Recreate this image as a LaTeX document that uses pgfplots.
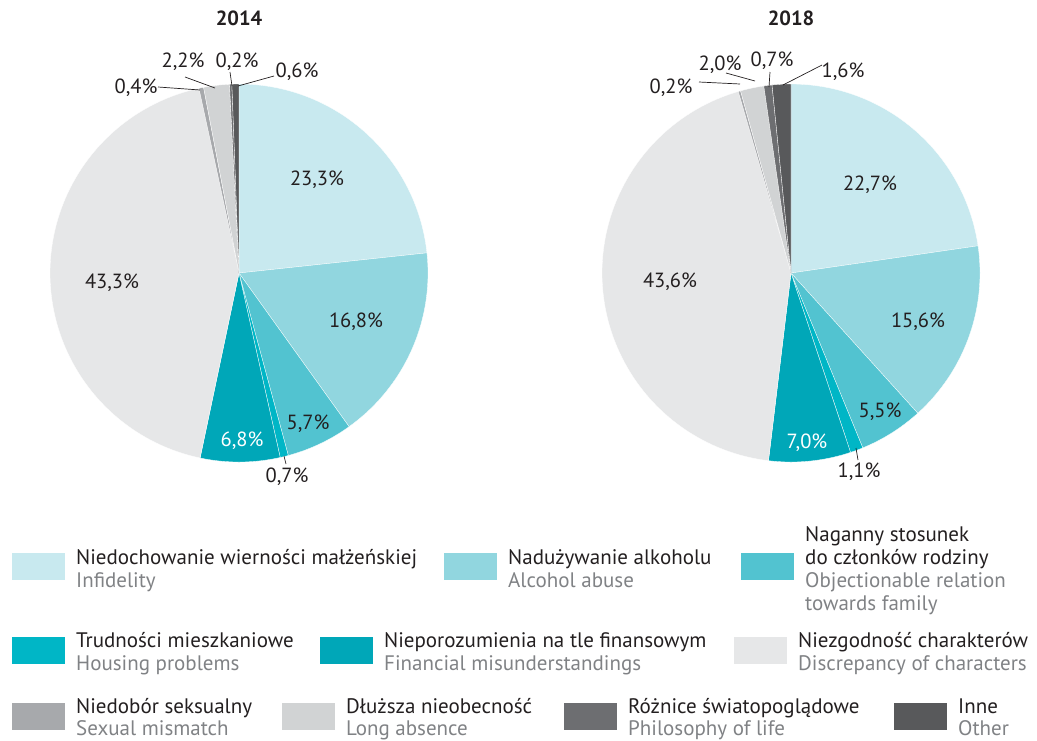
\documentclass[border=0pt]{standalone}
\usepackage{pgfplots}
\pgfplotsset{compat=1.18}
\usepgfplotslibrary{polar}
\usepackage{fontspec}
\setmainfont{PT Sans}
\definecolor{cInf}{HTML}{C8E9EF}
\definecolor{cAlc}{HTML}{91D6DF}
\definecolor{cObj}{HTML}{52C3D0}
\definecolor{cHou}{HTML}{00B6C6}
\definecolor{cFin}{HTML}{00A7B8}
\definecolor{cDis}{HTML}{E6E7E8}
\definecolor{cSex}{HTML}{A7A9AC}
\definecolor{cLon}{HTML}{D1D3D4}
\definecolor{cPhi}{HTML}{6D6E71}
\definecolor{cOth}{HTML}{58595B}
\definecolor{tDark}{HTML}{231F20}
\definecolor{tGray}{HTML}{808285}
% slice from cumulative start #1 to cumulative end #2 (percent), colour #3
\newcommand{\slice}[3]{\addplot[fill=#3, draw=white, line width=0.3pt, domain=90-3.6*#2:90-3.6*#1, samples=90] {1} -- (axis cs:0,0) -- cycle;}
\pgfplotsset{pie/.style={scale only axis, width=378pt, height=378pt, hide axis, clip=false, xmin=0, xmax=360, ymin=0, ymax=1, anchor=center}}
\newcommand{\pct}{\fontsize{20.5}{23}\selectfont\color{tDark}}
\newcommand{\lgf}{\fontsize{21}{23}\selectfont}
\begin{document}
\begin{tikzpicture}[x=1pt,y=-1pt]
\useasboundingbox (0,0) rectangle (1037,740);
% ---- 2014 ----
\begin{polaraxis}[pie, at={(239pt,-273pt)}]
% values: 23.3 16.8 5.7 0.7 6.8 43.3 0.4 2.2 0.2 0.6
\slice{0}{23.3}{cInf}
\slice{23.3}{40.1}{cAlc}
\slice{40.1}{45.8}{cObj}
\slice{45.8}{46.5}{cHou}
\slice{46.5}{53.3}{cFin}
\slice{53.3}{96.6}{cDis}
\slice{96.6}{97.0}{cSex}
\slice{97.0}{99.2}{cLon}
\slice{99.2}{99.4}{cPhi}
\slice{99.4}{100}{cOth}
\end{polaraxis}
% ---- 2018 ----
\begin{polaraxis}[pie, at={(791pt,-273pt)}]
% values: 22.7 15.6 5.5 1.1 7.0 43.6 0.2 2.0 0.7 1.6
\slice{0}{22.7}{cInf}
\slice{22.7}{38.3}{cAlc}
\slice{38.3}{43.8}{cObj}
\slice{43.8}{44.9}{cHou}
\slice{44.9}{51.9}{cFin}
\slice{51.9}{95.5}{cDis}
\slice{95.5}{95.7}{cSex}
\slice{95.7}{97.7}{cLon}
\slice{97.7}{98.4}{cPhi}
\slice{98.4}{100}{cOth}
\end{polaraxis}
% titles
\node[font=\fontsize{20.5}{23}\selectfont\bfseries, text=tDark] at (239,18) {2014};
\node[font=\fontsize{20.5}{23}\selectfont\bfseries, text=tDark] at (791,18) {2018};
% labels 2014
\node[font=\pct] at (317,180) {23,3\%};
\node[font=\pct] at (356,322) {16,8\%};
\node[font=\pct] at (308,424) {5,7\%};
\node[font=\pct, text=white] at (242,441) {6,8\%};
\node[font=\pct] at (287,477) {0,7\%};
\node[font=\pct] at (112,283) {43,3\%};
\node[font=\pct] at (136,88) {0,4\%};
\node[font=\pct] at (183,62) {2,2\%};
\node[font=\pct] at (237,62) {0,2\%};
\node[font=\pct] at (297,72) {0,6\%};
\draw[tDark, line width=0.7pt] (158,87) -- (200,90);
\draw[tDark, line width=0.7pt] (185,77) -- (215,88);
\draw[tDark, line width=0.7pt] (230,72) -- (232,86);
\draw[tDark, line width=0.7pt] (274,76) -- (238,86);
\draw[tDark, line width=0.7pt] (284,456) -- (286,464);
% labels 2018
\node[font=\pct] at (870,185) {22,7\%};
\node[font=\pct] at (918,322) {15,6\%};
\node[font=\pct] at (880,412) {5,5\%};
\node[font=\pct, text=white] at (807,443) {7,0\%};
\node[font=\pct] at (859,472) {1,1\%};
\node[font=\pct] at (670,282) {43,6\%};
\node[font=\pct] at (671,88) {0,2\%};
\node[font=\pct] at (720,65) {2,0\%};
\node[font=\pct] at (772,61) {0,7\%};
\node[font=\pct] at (843,72) {1,6\%};
\draw[tDark, line width=0.7pt] (699,82) -- (740,84);
\draw[tDark, line width=0.7pt] (726,73) -- (755,81);
\draw[tDark, line width=0.7pt] (770,72) -- (769,87);
\draw[tDark, line width=0.7pt] (822,65) -- (783,85);
\draw[tDark, line width=0.7pt] (856,448) -- (858,460);
% legend
\fill[cInf] (12,553) rectangle (65,580);
\node[anchor=base west, inner sep=0pt, font=\lgf, text=tDark] at (76,564) {Niedochowanie wierności małżeńskiej};
\node[anchor=base west, inner sep=0pt, font=\lgf, text=tGray] at (76,587) {Infidelity};
\fill[cAlc] (444,553) rectangle (497,580);
\node[anchor=base west, inner sep=0pt, font=\lgf, text=tDark] at (508,564) {Nadużywanie alkoholu};
\node[anchor=base west, inner sep=0pt, font=\lgf, text=tGray] at (508,587) {Alcohol abuse};
\fill[cObj] (741,553) rectangle (794,580);
\node[anchor=base west, inner sep=0pt, font=\lgf, text=tDark] at (805,541) {Naganny stosunek};
\node[anchor=base west, inner sep=0pt, font=\lgf, text=tDark] at (805,564) {do członków rodziny};
\node[anchor=base west, inner sep=0pt, font=\lgf, text=tGray] at (805,587) {Objectionable relation};
\node[anchor=base west, inner sep=0pt, font=\lgf, text=tGray] at (805,610) {towards family};
\fill[cHou] (12,637) rectangle (65,664);
\node[anchor=base west, inner sep=0pt, font=\lgf, text=tDark] at (76,647) {Trudności mieszkaniowe};
\node[anchor=base west, inner sep=0pt, font=\lgf, text=tGray] at (76,670) {Housing problems};
\fill[cFin] (320,637) rectangle (373,664);
\node[anchor=base west, inner sep=0pt, font=\lgf, text=tDark] at (384,647) {Nieporozumienia na tle finansowym};
\node[anchor=base west, inner sep=0pt, font=\lgf, text=tGray] at (384,670) {Financial misunderstandings};
\fill[cDis] (734,637) rectangle (787,664);
\node[anchor=base west, inner sep=0pt, font=\lgf, text=tDark] at (798,647) {Niezgodność charakterów};
\node[anchor=base west, inner sep=0pt, font=\lgf, text=tGray] at (798,670) {Discrepancy of characters};
\fill[cSex] (12,703) rectangle (65,730);
\node[anchor=base west, inner sep=0pt, font=\lgf, text=tDark] at (76,713) {Niedobór seksualny};
\node[anchor=base west, inner sep=0pt, font=\lgf, text=tGray] at (76,735) {Sexual mismatch};
\fill[cLon] (282,703) rectangle (335,730);
\node[anchor=base west, inner sep=0pt, font=\lgf, text=tDark] at (346,713) {Dłuższa nieobecność};
\node[anchor=base west, inner sep=0pt, font=\lgf, text=tGray] at (346,735) {Long absence};
\fill[cPhi] (564,703) rectangle (617,730);
\node[anchor=base west, inner sep=0pt, font=\lgf, text=tDark] at (628,713) {Różnice światopoglądowe};
\node[anchor=base west, inner sep=0pt, font=\lgf, text=tGray] at (628,735) {Philosophy of life};
\fill[cOth] (894,703) rectangle (947,730);
\node[anchor=base west, inner sep=0pt, font=\lgf, text=tDark] at (958,713) {Inne};
\node[anchor=base west, inner sep=0pt, font=\lgf, text=tGray] at (958,735) {Other};
\end{tikzpicture}
\end{document}
